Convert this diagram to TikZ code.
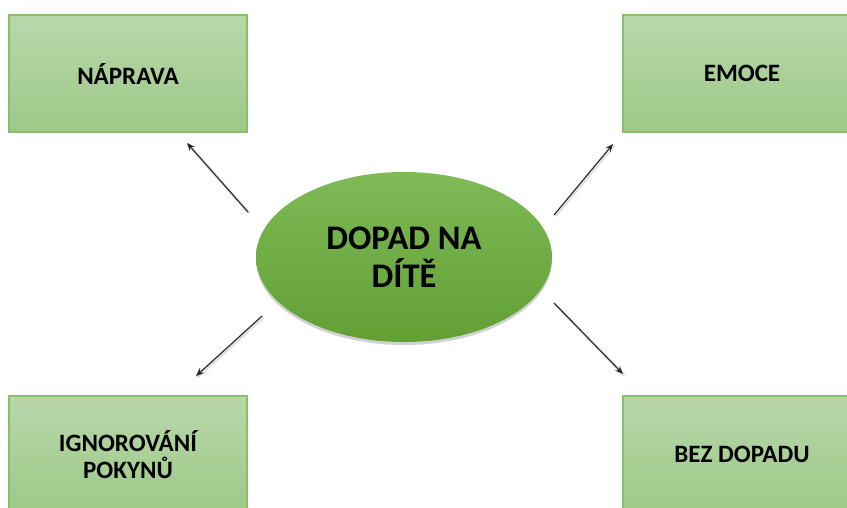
\documentclass[tikz,border=0pt]{standalone}
\usepackage{fontspec}
\setmainfont{Carlito}
\usetikzlibrary{shapes.geometric,arrows.meta,shadows}
\definecolor{boxtop}{RGB}{184,215,170}
\definecolor{boxbot}{RGB}{157,201,136}
\definecolor{boxedge}{RGB}{135,192,105}
\definecolor{elltop}{RGB}{126,186,86}
\definecolor{ellbot}{RGB}{98,160,54}
\definecolor{arrowcol}{RGB}{40,40,40}
\begin{document}
\begin{tikzpicture}[x=1pt,y=-1pt,
  leaf/.style={rectangle, draw=boxedge, line width=1.2pt,
    top color=boxtop, bottom color=boxbot,
    minimum width=238pt, minimum height=117pt, inner sep=0pt,
    align=center, text=black, font=\bfseries\fontsize{25}{26.5}\selectfont},
  hub/.style={ellipse, top color=elltop, bottom color=ellbot,
    minimum width=296pt, minimum height=170pt, inner sep=0pt,
    align=center, font=\bfseries\fontsize{34.5}{38}\selectfont,
    drop shadow={shadow xshift=0pt, shadow yshift=-3pt, opacity=0.18, fill=black}},
  link/.style={draw=arrowcol, line width=1.1pt, -{Stealth[length=8pt,width=6.5pt]},
    preaction={draw=black, opacity=0.12, line width=3pt, -{}, transform canvas={shift={(1.2pt,-1.2pt)}}}}]
\useasboundingbox (0,0) rectangle (847,507);

% outcome boxes
\node[leaf] (naprava) at (128,73.5) {NÁPRAVA};
\node[leaf] (emoce) at (742,73.5) {EMOCE};
\node[leaf] (ignor) at (128,454.5) {IGNOROVÁNÍ\\POKYNŮ};
\node[leaf] (bez) at (742,454.5) {BEZ DOPADU};

% central ellipse
\node[hub] (hub) at (404,257) {DOPAD NA\\DÍTĚ};

% free-standing arrow ends
\coordinate (s1) at (248,212);
\coordinate (e1) at (187,143);
\coordinate (s2) at (554,215);
\coordinate (e2) at (613,144);
\coordinate (s3) at (262,316);
\coordinate (e3) at (196,376);
\coordinate (s4) at (554,303);
\coordinate (e4) at (623,374);

\draw[link] (s1) -- (e1);
\draw[link] (s2) -- (e2);
\draw[link] (s3) -- (e3);
\draw[link] (s4) -- (e4);
\end{tikzpicture}
\end{document}
